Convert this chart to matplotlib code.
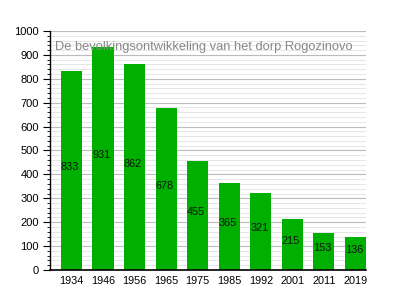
import matplotlib.pyplot as plt
from matplotlib.ticker import MultipleLocator

plt.rcParams['font.family'] = ['Liberation Sans', 'DejaVu Sans']

# Population data
years = ['1934', '1946', '1956', '1965', '1975', '1985', '1992', '2001', '2011', '2019']
population = [833, 931, 862, 678, 455, 365, 321, 215, 153, 136]
title = 'De bevolkingsontwikkeling van het dorp Rogozinovo'

fig = plt.figure(figsize=(3.95, 3.00), dpi=100)
ax = fig.add_axes([0.1266, 0.10, 0.80, 0.7967])

x = list(range(len(years)))
bar_w = 0.67
ax.bar(x, population, width=bar_w, color='#00b000', zorder=3)

# value labels, left aligned at the bar edge, around the middle of the bar
for xi, v in zip(x, population):
    ax.text(xi - bar_w / 2, v / 2 + 14, str(v), ha='left', va='center',
            fontsize=7.8, color='#111111', zorder=4)

ax.set_xlim(-0.68, 9.335)
ax.set_ylim(0, 1000)
ax.set_xticks(x)
ax.set_xticklabels(years, fontsize=7.8)
ax.tick_params(axis='x', length=0, pad=4)

ax.yaxis.set_major_locator(MultipleLocator(100))
ax.yaxis.set_minor_locator(MultipleLocator(20))
ax.tick_params(axis='y', which='major', length=5, width=0.8, labelsize=8, pad=3)
ax.tick_params(axis='y', which='minor', length=2.5, width=0.6)

ax.grid(axis='y', which='major', color='#bbbbbb', linewidth=0.8, zorder=0)
ax.grid(axis='y', which='minor', color='#e2e2e2', linewidth=0.6, zorder=0)

for s in ['top', 'right']:
    ax.spines[s].set_visible(False)
ax.spines['left'].set_linewidth(1.0)
ax.spines['bottom'].set_linewidth(1.2)
ax.spines['left'].set_zorder(5)
ax.spines['bottom'].set_zorder(5)

ax.text(0.015, 0.935, title, transform=ax.transAxes, ha='left', va='center',
        fontsize=9.3, color='#888888', zorder=6)

fig.savefig('out.png', dpi=100)
